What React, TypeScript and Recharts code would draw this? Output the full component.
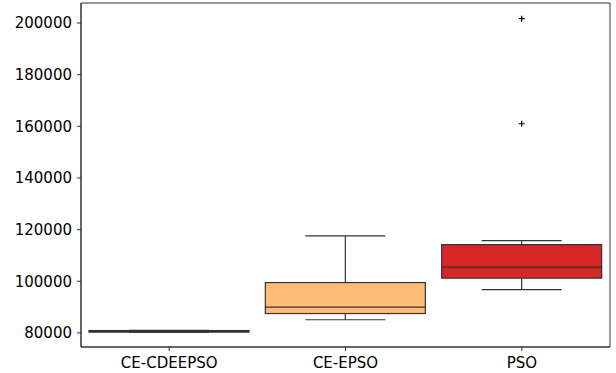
import React from "react"
import { ComposedChart, Bar, XAxis, YAxis, ReferenceArea } from "recharts"

// one box per optimiser: whiskers, quartiles and median
const categories = ["CE-CDEEPSO", "CE-EPSO", "PSO"]
const whiskerLow = [80250, 85100, 96800]
const q1 = [80300, 87500, 101200]
const median = [80600, 90000, 105500]
const q3 = [80900, 99500, 114200]
const whiskerHigh = [80950, 117600, 115700]

// points beyond the whiskers, per optimiser
const outliers = [[], [], [161000, 201700]]

const yTicks = [80000, 100000, 120000, 140000, 160000, 180000, 200000]
const yDomain = [74545, 207755]

const boxColors = ["#222222", "#ffbb78", "#d62728"]
const edge = "#333333"
const font = "DejaVu Sans"

const data = categories.map((name, i) => ({
    name,
    low: whiskerLow[i],
    q1: q1[i],
    median: median[i],
    q3: q3[i],
    high: whiskerHigh[i],
    fliers: outliers[i],
}))

function BoxShape(props: any) {
    const { x, y, width, height, payload, index } = props
    const top = Math.min(y, y + height)
    const h = Math.abs(height)
    const span = payload.high - payload.low
    // bar spans low..high, so interpolate the other stats inside it
    const toY = (v: number) => (span === 0 ? top : top + ((payload.high - v) / span) * h)
    const cx = x + width / 2
    const capHalf = width / 4
    const yq1 = toY(payload.q1)
    const yq3 = toY(payload.q3)
    const ymed = toY(payload.median)
    const yLow = toY(payload.low)
    const yHigh = toY(payload.high)
    return (
        <g>
            <line x1={cx} x2={cx} y1={yHigh} y2={yq3} stroke={edge} strokeWidth={1.2} />
            <line x1={cx} x2={cx} y1={yq1} y2={yLow} stroke={edge} strokeWidth={1.2} />
            <line x1={cx - capHalf} x2={cx + capHalf} y1={yHigh} y2={yHigh} stroke={edge} strokeWidth={1.2} />
            <line x1={cx - capHalf} x2={cx + capHalf} y1={yLow} y2={yLow} stroke={edge} strokeWidth={1.2} />
            <rect
                x={x}
                y={yq3}
                width={width}
                height={Math.max(yq1 - yq3, 0)}
                fill={boxColors[index]}
                stroke={edge}
                strokeWidth={1.2}
            />
            <line x1={x} x2={x + width} y1={ymed} y2={ymed} stroke={edge} strokeWidth={1.2} />
            {payload.fliers.map((v: number, k: number) => {
                const py = toY(v)
                return (
                    <path
                        key={k}
                        d={`M${cx - 3},${py}H${cx + 3}M${cx},${py - 3}V${py + 3}`}
                        stroke="#000"
                        strokeWidth={1.2}
                    />
                )
            })}
        </g>
    )
}

export default function App() {
    return (
        <div style={{ position: "absolute", left: 0, top: 0, background: "#fff" }}>
            <ComposedChart
                width={616}
                height={373}
                data={data}
                margin={{ top: 3, right: 6, left: 0, bottom: 0 }}
            >
                <XAxis
                    dataKey="name"
                    height={26}
                    stroke="#333"
                    tickSize={4}
                    tickMargin={6}
                    tick={{ fill: "#000", fontSize: 15, fontFamily: font }}
                />
                <YAxis
                    type="number"
                    domain={yDomain}
                    ticks={yTicks}
                    width={81}
                    stroke="#333"
                    tickSize={4}
                    tickMargin={5}
                    allowDataOverflow
                    tick={{ fill: "#000", fontSize: 15, fontFamily: font }}
                />
                {/* frame around the plot area */}
                <ReferenceArea
                    y1={yDomain[0]}
                    y2={yDomain[1]}
                    fill="none"
                    stroke="#333"
                    strokeWidth={1}
                    ifOverflow="visible"
                />
                <Bar
                    dataKey={(d: any) => [d.low, d.high]}
                    barSize={160}
                    shape={<BoxShape />}
                    isAnimationActive={false}
                />
            </ComposedChart>
        </div>
    )
}
